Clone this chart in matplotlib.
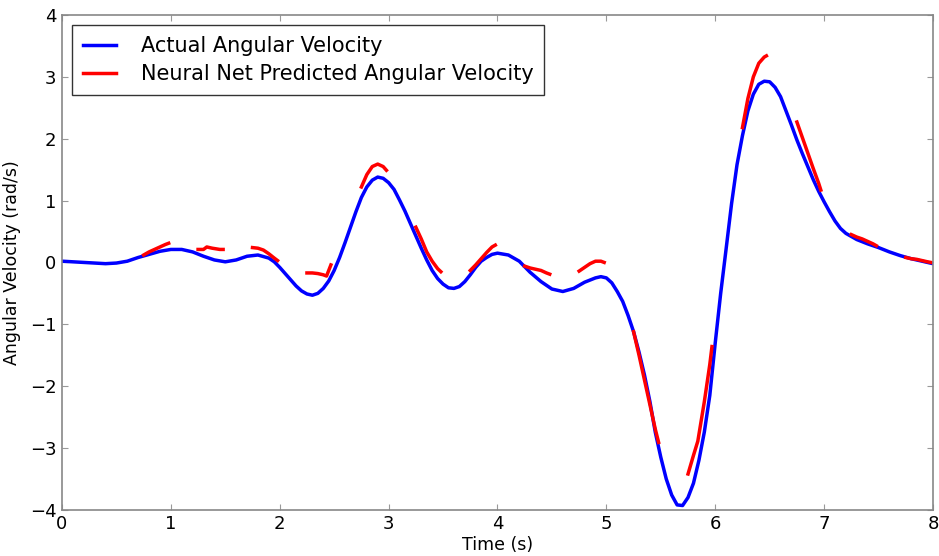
import numpy as np
import matplotlib
matplotlib.use("Agg")
import matplotlib.pyplot as plt

# actual angular velocity
t_actual = [0.0, 0.1, 0.2, 0.3, 0.4, 0.5, 0.6, 0.7, 0.8, 0.9,
            1.0, 1.1, 1.2, 1.3, 1.4, 1.5, 1.6, 1.7, 1.8, 1.9,
            1.95, 2.0, 2.05, 2.1, 2.15, 2.2, 2.25, 2.3, 2.35, 2.4,
            2.45, 2.5, 2.55, 2.6, 2.65, 2.7, 2.75, 2.8, 2.85, 2.9,
            2.95, 3.0, 3.05, 3.1, 3.15, 3.2, 3.25, 3.3, 3.35, 3.4,
            3.45, 3.5, 3.55, 3.6, 3.65, 3.7, 3.75, 3.8, 3.85, 3.9,
            3.95, 4.0, 4.1, 4.2, 4.3, 4.4, 4.5, 4.6, 4.7, 4.8,
            4.9, 4.95, 5.0, 5.05, 5.1, 5.15, 5.2, 5.25, 5.3, 5.35,
            5.4, 5.45, 5.5, 5.55, 5.6, 5.65, 5.7, 5.75, 5.8, 5.85,
            5.9, 5.95, 6.0, 6.05, 6.1, 6.15, 6.2, 6.25, 6.3, 6.35,
            6.4, 6.45, 6.5, 6.55, 6.6, 6.65, 6.7, 6.75, 6.8, 6.85,
            6.9, 6.95, 7.0, 7.05, 7.1, 7.15, 7.2, 7.3, 7.4, 7.5,
            7.6, 7.7, 7.8, 7.9, 8.0]
w_actual = [0.02, 0.01, 0.00, -0.01, -0.02, -0.01, 0.02, 0.08, 0.13, 0.18,
            0.21, 0.21, 0.17, 0.10, 0.04, 0.01, 0.04, 0.10, 0.12, 0.07,
            0.01, -0.08, -0.18, -0.28, -0.38, -0.46, -0.51, -0.53, -0.50, -0.42,
            -0.30, -0.13, 0.08, 0.32, 0.57, 0.82, 1.05, 1.22, 1.33, 1.38,
            1.36, 1.29, 1.18, 1.01, 0.83, 0.63, 0.43, 0.23, 0.04, -0.13,
            -0.26, -0.35, -0.41, -0.42, -0.39, -0.31, -0.20, -0.08, 0.02, 0.08,
            0.13, 0.15, 0.12, 0.02, -0.16, -0.31, -0.43, -0.47, -0.42, -0.32,
            -0.25, -0.23, -0.25, -0.33, -0.47, -0.63, -0.86, -1.12, -1.45, -1.82,
            -2.25, -2.75, -3.15, -3.50, -3.76, -3.92, -3.93, -3.80, -3.57, -3.20,
            -2.74, -2.15, -1.30, -0.50, 0.22, 0.95, 1.58, 2.05, 2.45, 2.72,
            2.88, 2.93, 2.92, 2.83, 2.68, 2.45, 2.22, 1.98, 1.76, 1.55,
            1.34, 1.15, 0.98, 0.82, 0.67, 0.55, 0.47, 0.37, 0.30, 0.24,
            0.17, 0.11, 0.06, 0.02, -0.02]

# neural net predictions, one short window per segment
t_pred = [
    [0.75, 0.80, 0.85, 0.90, 0.95, 0.98],
    [1.25, 1.30, 1.33, 1.38, 1.45, 1.48],
    [1.75, 1.80, 1.85, 1.90, 1.95, 1.98],
    [2.25, 2.30, 2.35, 2.40, 2.43, 2.47],
    [2.75, 2.80, 2.85, 2.90, 2.95, 2.98],
    [3.25, 3.30, 3.35, 3.40, 3.45, 3.48],
    [3.75, 3.80, 3.85, 3.90, 3.95, 3.98],
    [4.25, 4.30, 4.35, 4.40, 4.45, 4.48],
    [4.75, 4.80, 4.85, 4.90, 4.95, 4.98],
    [5.25, 5.30, 5.35, 5.40, 5.45, 5.48],
    [5.75, 5.80, 5.84, 5.90, 5.95, 5.97],
    [6.25, 6.30, 6.35, 6.40, 6.45, 6.47],
    [6.75, 6.80, 6.85, 6.90, 6.95, 6.97],
    [7.25, 7.30, 7.35, 7.40, 7.45, 7.48],
    [7.75, 7.80, 7.85, 7.90, 7.95, 7.98],
]
w_pred = [
    [0.12, 0.17, 0.21, 0.25, 0.29, 0.31],
    [0.21, 0.21, 0.25, 0.23, 0.21, 0.21],
    [0.24, 0.23, 0.20, 0.14, 0.07, 0.03],
    [-0.17, -0.17, -0.18, -0.20, -0.22, -0.04],
    [1.22, 1.42, 1.55, 1.59, 1.55, 1.49],
    [0.57, 0.38, 0.17, 0.02, -0.10, -0.15],
    [-0.13, -0.04, 0.06, 0.16, 0.25, 0.28],
    [-0.06, -0.09, -0.11, -0.13, -0.17, -0.19],
    [-0.14, -0.08, -0.02, 0.02, 0.02, 0.00],
    [-1.12, -1.50, -1.90, -2.30, -2.70, -2.91],
    [-3.42, -3.12, -2.89, -2.25, -1.65, -1.36],
    [2.18, 2.65, 3.00, 3.22, 3.32, 3.34],
    [2.27, 2.02, 1.77, 1.52, 1.28, 1.17],
    [0.45, 0.41, 0.38, 0.34, 0.30, 0.27],
    [0.08, 0.06, 0.05, 0.03, 0.01, 0.00],
]

fig = plt.figure(figsize=(9.39, 5.56), dpi=100)
ax = fig.add_axes([0.066, 0.083, 0.9276, 0.89])

ax.plot(t_actual, w_actual, color="blue", lw=2.5, label="Actual Angular Velocity")
for i, (tp, wp) in enumerate(zip(t_pred, w_pred)):
    ax.plot(tp, wp, color="red", lw=2.5,
            label="Neural Net Predicted Angular Velocity" if i == 0 else None)

ax.set_xlim(0, 8)
ax.set_ylim(-4, 4)
ax.set_xlabel("Time (s)", fontsize=12.5, labelpad=2)
ax.set_ylabel("Angular Velocity (rad/s)", fontsize=12.5, labelpad=6)
ax.tick_params(direction="in", top=True, right=True, labelsize=13,
               length=4, color="#999999")
ax.tick_params(axis="x", pad=4)
ax.tick_params(axis="y", pad=4)
for s in ax.spines.values():
    s.set_color("#888888")
    s.set_linewidth(1.2)

leg = ax.legend(loc="upper left", fontsize=15, fancybox=False, framealpha=1,
                handlelength=1.6, handletextpad=1.2, borderpad=0.5,
                labelspacing=0.4, borderaxespad=0.5)
leg.get_frame().set_edgecolor("#333333")

plt.savefig("out.png", dpi=100)
plt.close()
